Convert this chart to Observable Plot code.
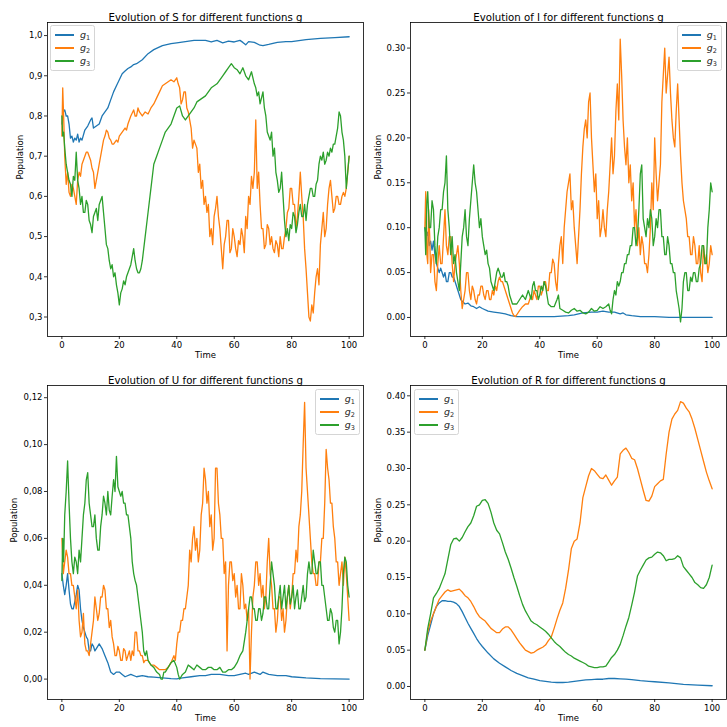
<!DOCTYPE html>
<html><head><meta charset="utf-8">
<script src="https://cdn.jsdelivr.net/npm/d3@7"></script>
<script src="https://cdn.jsdelivr.net/npm/@observablehq/plot@0.6"></script>
<style>
body{margin:0;background:#fff;font-family:"DejaVu Sans",sans-serif;}
#root{position:relative;width:727px;height:727px;overflow:hidden;background:#fff;}
.panel{position:absolute;}
.legend{position:absolute;border:1px solid #d5d5d5;border-radius:2.5px;background:rgba(255,255,255,0.8);padding:2.5px 4px 2.5px 4px;font-size:9.5px;color:#222;}
.legend .row{display:flex;align-items:center;height:13px;white-space:nowrap;}
.legend .sw{display:inline-block;width:19px;height:1.3px;margin-right:6px;}
.legend .lab{display:inline-block;line-height:10px;}
.legend i{font-family:"DejaVu Sans";font-style:oblique;}
.legend sub{font-size:6.5px;vertical-align:-1.5px;line-height:0;}
</style>
</head><body><div id="root"></div>
<script>
// ---------- categories / labels ----------
const groups = ["g1", "g2", "g3"];
const groupSub = ["1", "2", "3"];
const colors = ["#1f77b4", "#ff7f0e", "#2ca02c"];
const xTicks = [0, 20, 40, 60, 80, 100];
const S_ticks = [0.3, 0.4, 0.5, 0.6, 0.7, 0.8, 0.9, 1.0];
const I_ticks = [0, 0.05, 0.10, 0.15, 0.20, 0.25, 0.30];
const U_ticks = [0, 0.02, 0.04, 0.06, 0.08, 0.10, 0.12];
const R_ticks = [0, 0.05, 0.10, 0.15, 0.20, 0.25, 0.30, 0.35, 0.40];
const titles = ["Evolution of S for different functions g", "Evolution of I for different functions g",
  "Evolution of U for different functions g", "Evolution of R for different functions g"];

// ---------- S ----------
const S_g1 = [[0,.78],[0.5,.81],[1,.815],[1.5,.80],[2,.80],[2.5,.78],[3,.745],[3.5,.75],[4,.735],[4.5,.745],[5,.74],[5.5,.755],[6,.735],[6.5,.745],[7,.74],[8,.765],[9,.775],[10,.79],[10.5,.795],[11,.77],[12,.775],[13,.78],[14,.80],[15,.81],[16,.82],[17,.84],[18,.86],[19,.875],[20,.89],[21,.905],[22,.912],[23,.918],[24,.922],[25,.928],[26,.93],[28,.94],[30,.955],[32,.965],[35,.975],[38,.98],[40,.982],[43,.985],[46,.988],[48,.988],[50,.988],[52,.984],[54,.988],[56,.982],[58,.986],[60,.984],[62,.988],[63,.983],[64,.977],[65,.985],[67,.983],[69,.976],[70,.975],[72,.978],[75,.983],[78,.985],[80,.985],[85,.99],[90,.993],[95,.995],[100,.997]];
const S_g2 = [[0,.75],[0.3,.87],[0.7,.78],[1,.70],[1.5,.63],[2,.66],[2.5,.61],[3,.60],[3.5,.63],[4,.62],[4.5,.60],[5,.58],[5.5,.64],[6,.66],[6.5,.65],[7,.68],[7.5,.69],[8,.70],[8.5,.71],[9,.71],[9.5,.70],[10,.69],[10.5,.67],[11,.66],[11.5,.62],[12,.64],[12.5,.66],[13,.68],[13.5,.70],[14,.72],[14.5,.74],[15,.75],[15.5,.765],[16,.76],[16.5,.745],[17,.74],[17.5,.73],[18,.73],[19,.74],[19.5,.735],[20,.75],[21,.76],[22,.77],[22.5,.765],[23,.78],[24,.80],[25,.815],[25.5,.80],[26,.80],[26.5,.82],[27,.81],[28,.80],[29,.81],[30,.805],[31,.82],[32,.83],[33,.845],[34,.86],[35,.875],[36,.88],[37,.885],[38,.89],[39,.885],[40,.895],[40.5,.88],[41,.87],[41.5,.83],[42,.84],[42.5,.86],[43,.86],[43.5,.82],[44,.81],[45,.77],[45.5,.72],[46,.74],[47,.72],[47.5,.66],[48,.68],[48.5,.62],[49,.64],[49.5,.58],[50,.60],[50.5,.56],[51,.58],[51.5,.50],[52,.52],[52.5,.48],[53,.55],[53.5,.57],[54,.60],[54.5,.55],[55,.52],[55.5,.47],[56,.42],[56.5,.48],[57,.50],[57.5,.54],[58,.54],[58.5,.46],[59,.47],[59.5,.52],[60,.50],[60.5,.47],[61,.45],[61.5,.49],[62,.48],[62.5,.52],[63,.50],[63.5,.46],[64,.55],[64.5,.52],[65,.60],[65.5,.58],[66,.65],[66.5,.62],[67,.66],[67.5,.79],[68,.62],[68.5,.66],[69,.58],[69.5,.52],[70,.52],[70.5,.47],[71,.48],[71.5,.53],[72,.52],[72.5,.48],[73,.50],[73.5,.47],[74,.46],[74.5,.49],[75,.48],[75.5,.45],[76,.50],[76.5,.47],[77,.47],[77.5,.50],[78,.52],[78.5,.56],[79,.57],[79.5,.62],[80,.62],[80.5,.58],[81,.58],[81.5,.52],[82,.55],[82.5,.60],[83,.66],[83.5,.60],[84,.55],[84.5,.47],[85,.42],[85.5,.36],[86,.30],[86.5,.29],[87,.33],[87.5,.31],[88,.36],[88.5,.40],[89,.42],[89.5,.38],[90,.48],[90.5,.52],[91,.56],[91.5,.50],[92,.52],[92.5,.58],[93,.62],[93.5,.64],[94,.60],[94.5,.56],[95,.57],[95.5,.60],[96,.60],[96.5,.58],[97,.58],[97.5,.60],[98,.61],[98.5,.60],[99,.62],[99.5,.66],[100,.70]];
const S_g3 = [[0,.80],[0.3,.75],[0.6,.76],[1,.72],[1.5,.68],[2,.66],[2.5,.64],[3,.63],[3.5,.60],[4,.65],[4.5,.64],[5,.71],[5.5,.64],[6,.62],[6.5,.58],[7,.60],[7.5,.56],[8,.56],[8.5,.59],[9,.58],[9.5,.54],[10,.53],[10.5,.51],[11,.55],[11.5,.56],[12,.57],[12.5,.54],[13,.58],[13.5,.59],[14,.60],[14.5,.56],[15,.52],[15.5,.48],[16,.47],[16.5,.44],[17,.42],[17.5,.43],[18,.40],[18.5,.41],[19,.38],[19.5,.36],[20,.33],[20.5,.36],[21,.37],[21.5,.39],[22,.38],[22.5,.40],[23,.41],[23.5,.42],[24,.43],[24.5,.45],[25,.47],[25.5,.44],[26,.42],[26.5,.41],[27,.41],[27.5,.42],[28,.44],[29,.50],[30,.56],[31,.62],[32,.68],[33,.70],[34,.72],[35,.74],[36,.76],[37,.77],[38,.78],[39,.80],[40,.82],[41,.825],[42,.80],[43,.79],[44,.80],[45,.81],[46,.82],[47,.835],[48,.84],[49,.845],[50,.85],[51,.86],[52,.87],[53,.875],[54,.88],[55,.89],[56,.90],[57,.91],[58,.92],[59,.93],[60,.92],[61,.915],[62,.905],[63,.92],[64,.90],[65,.89],[66,.91],[67,.88],[67.5,.87],[68,.85],[68.5,.86],[69,.83],[70,.86],[70.5,.82],[71,.80],[71.5,.76],[72,.75],[72.5,.74],[73,.76],[73.5,.70],[74,.72],[74.5,.66],[75,.64],[75.5,.61],[76,.62],[76.5,.66],[77,.60],[77.5,.54],[78,.50],[78.5,.52],[79,.49],[79.5,.53],[80,.52],[80.5,.56],[81,.55],[81.5,.51],[82,.53],[82.5,.56],[83,.58],[83.5,.55],[84,.55],[84.5,.58],[85,.54],[85.5,.58],[86,.60],[86.5,.62],[87,.62],[87.5,.60],[88,.60],[88.5,.63],[89,.64],[89.5,.68],[90,.70],[90.5,.69],[91,.71],[91.5,.68],[92,.69],[92.5,.71],[93,.70],[93.5,.72],[94,.71],[94.5,.73],[95,.73],[95.5,.75],[96,.77],[96.5,.81],[97,.80],[97.5,.76],[98,.74],[98.5,.70],[99,.62],[99.5,.66],[100,.70]];

// ---------- I ----------
const I_g1 = [[0,.10],[0.5,.09],[1,.095],[1.5,.08],[2,.085],[2.5,.075],[3,.085],[3.5,.07],[4,.06],[4.5,.055],[5,.05],[5.5,.055],[6,.05],[6.5,.045],[7,.05],[7.5,.04],[8,.04],[8.5,.05],[9,.05],[9.5,.045],[10,.045],[10.5,.04],[11,.035],[11.5,.03],[12,.025],[12.5,.02],[13,.018],[14,.015],[15,.016],[16,.013],[17,.012],[18,.01],[19,.012],[20,.01],[22,.007],[24,.006],[26,.005],[28,.004],[30,.002],[32,.001],[35,.001],[40,.001],[45,.001],[50,.002],[52,.003],[55,.005],[58,.006],[60,.006],[62,.007],[64,.006],[66,.006],[68,.004],[69,.005],[70,.003],[72,.002],[75,.001],[80,.001],[85,0],[90,0],[100,0]];
const I_g2 = [[0,.10],[0.3,.14],[0.7,.07],[1,.06],[1.3,.12],[1.7,.09],[2,.05],[2.5,.07],[3,.07],[3.5,.04],[4,.03],[4.5,.06],[5,.08],[5.5,.06],[6,.06],[6.5,.09],[7,.12],[7.5,.08],[8,.07],[8.5,.09],[9,.09],[9.5,.06],[10,.04],[10.5,.06],[11,.07],[11.5,.08],[12,.06],[12.5,.03],[13,.01],[13.5,.02],[14,.03],[14.5,.05],[15,.05],[15.5,.03],[16,.02],[16.5,.035],[17,.03],[17.5,.02],[18,.015],[18.5,.025],[19,.025],[19.5,.035],[20,.035],[20.5,.025],[21,.02],[21.5,.03],[22,.03],[22.5,.02],[23,.02],[23.5,.03],[24,.025],[24.5,.035],[25,.03],[25.5,.04],[26,.045],[26.5,.04],[27,.04],[27.5,.035],[28,.03],[28.5,.025],[29,.02],[29.5,.015],[30,.01],[30.5,.005],[31,.002],[31.5,.001],[32,.003],[33,.008],[34,.012],[35,.015],[36,.015],[37,.025],[37.5,.02],[38,.03],[38.5,.025],[39,.02],[39.5,.035],[40,.035],[40.5,.025],[41,.03],[41.5,.04],[42,.04],[42.5,.03],[43,.03],[43.5,.05],[44,.05],[44.5,.065],[45,.06],[45.5,.04],[46,.03],[46.5,.06],[47,.08],[47.5,.09],[48,.06],[48.5,.10],[49,.12],[49.5,.14],[50,.15],[50.5,.16],[51,.12],[51.5,.13],[52,.10],[52.5,.08],[53,.06],[53.5,.09],[54,.12],[54.5,.16],[55,.19],[55.5,.21],[56,.22],[56.5,.20],[57,.24],[57.5,.25],[58,.20],[58.5,.17],[59,.14],[59.5,.16],[60,.11],[60.5,.13],[61,.09],[61.5,.10],[62,.12],[62.5,.10],[63,.09],[63.5,.12],[64,.14],[64.5,.17],[65,.20],[65.5,.16],[66,.18],[66.5,.23],[67,.26],[67.5,.22],[68,.31],[68.5,.27],[69,.22],[69.5,.19],[70,.17],[70.5,.20],[71,.15],[71.5,.17],[72,.13],[72.5,.15],[73,.10],[73.5,.12],[74,.08],[74.5,.10],[75,.07],[75.5,.09],[76,.08],[76.5,.06],[77,.06],[77.5,.05],[78,.07],[78.5,.10],[79,.15],[79.5,.12],[80,.20],[80.5,.16],[81,.13],[81.5,.15],[82,.17],[82.5,.24],[83,.27],[83.5,.30],[84,.25],[84.5,.27],[85,.29],[85.5,.25],[86,.22],[86.5,.20],[87,.19],[87.5,.23],[88,.26],[88.5,.22],[89,.18],[89.5,.15],[90,.13],[90.5,.12],[91,.11],[91.5,.09],[92,.09],[92.5,.07],[93,.07],[93.5,.09],[94,.08],[94.5,.06],[95,.06],[95.5,.08],[96,.05],[96.5,.04],[97,.08],[97.5,.06],[98,.07],[98.5,.05],[99,.06],[99.5,.08],[100,.07]];
const I_g3 = [[0,.10],[0.3,.07],[0.7,.13],[1,.14],[1.5,.10],[2,.10],[2.5,.13],[3,.12],[3.5,.08],[4,.06],[4.5,.09],[5,.10],[5.5,.12],[6,.12],[6.5,.14],[7,.15],[7.5,.18],[8,.12],[8.5,.10],[9,.07],[9.5,.09],[10,.06],[10.5,.07],[11,.05],[11.5,.04],[12,.03],[12.5,.06],[13,.09],[13.5,.10],[14,.12],[14.5,.09],[15,.08],[15.5,.11],[16,.13],[16.5,.15],[17,.17],[17.5,.15],[18,.14],[18.5,.12],[19,.10],[19.5,.11],[20,.09],[20.5,.08],[21,.07],[21.5,.075],[22,.06],[22.5,.055],[23,.04],[23.5,.035],[24,.03],[24.5,.04],[25,.05],[25.5,.055],[26,.05],[26.5,.045],[27,.045],[27.5,.05],[28,.04],[28.5,.04],[29,.035],[29.5,.025],[30,.02],[30.5,.015],[31,.015],[32,.015],[33,.02],[34,.025],[35,.02],[36,.03],[37,.02],[37.5,.035],[38,.04],[38.5,.03],[39,.03],[39.5,.02],[40,.025],[40.5,.035],[41,.03],[41.5,.04],[42,.035],[42.5,.025],[43,.015],[44,.012],[45,.012],[46,.02],[46.5,.025],[47,.01],[48,.008],[49,.006],[50,.005],[51,.008],[52,.01],[53,.007],[54,.008],[55,.005],[56,.004],[57,.006],[58,.01],[59,.007],[60,.008],[61,.012],[62,.01],[63,.012],[64,.015],[64.5,.008],[65,.004],[65.5,.02],[66,.03],[66.5,.025],[67,.04],[67.5,.035],[68,.04],[68.5,.05],[69,.05],[69.5,.06],[70,.06],[70.5,.07],[71,.07],[71.5,.08],[72,.08],[72.5,.10],[73,.10],[73.5,.08],[74,.09],[74.5,.12],[75,.16],[75.5,.17],[76,.11],[76.5,.10],[77,.09],[77.5,.11],[78,.10],[78.5,.12],[79,.11],[79.5,.08],[80,.09],[80.5,.11],[81,.10],[81.5,.12],[82,.12],[82.5,.09],[83,.09],[83.5,.07],[84,.07],[84.5,.09],[85,.08],[85.5,.06],[86,.06],[86.5,.05],[87,.05],[87.5,.03],[88,.02],[88.5,.01],[89,-.005],[89.5,.01],[90,.04],[90.5,.05],[91,.05],[91.5,.03],[92,.03],[92.5,.045],[93,.04],[93.5,.05],[94,.05],[94.5,.04],[95,.04],[95.5,.055],[96,.06],[96.5,.08],[97,.08],[97.5,.06],[98,.06],[98.5,.10],[99,.12],[99.5,.15],[100,.14]];

// ---------- U ----------
const U_g1 = [[0,.045],[0.5,.04],[1,.036],[1.5,.04],[2,.045],[2.5,.038],[3,.032],[3.5,.03],[4,.03],[4.5,.033],[5,.036],[5.5,.04],[6,.038],[6.5,.03],[7,.025],[7.5,.022],[8,.02],[8.5,.018],[9,.017],[9.5,.012],[10,.012],[10.5,.015],[11,.014],[11.5,.012],[12,.013],[13,.015],[14,.013],[15,.01],[16,.007],[17,.003],[18,.002],[19,.003],[20,.003],[21,.002],[22,.001],[24,.002],[26,.001],[28,.0015],[30,.001],[32,.0008],[35,.0005],[38,.0002],[40,.0001],[42,.0005],[45,.001],[48,.0015],[50,.0015],[52,.002],[55,.002],[58,.0015],[60,.0015],[62,.002],[64,.0025],[65,.002],[67,.003],[69,.002],[70,.003],[72,.002],[75,.0015],[78,.0015],[80,.001],[85,.0005],[90,.0002],[100,0]];
const U_g2 = [[0,.06],[0.5,.045],[1,.05],[1.5,.055],[2,.052],[2.5,.045],[3,.045],[3.5,.04],[4,.04],[4.5,.035],[5,.03],[5.5,.038],[6,.025],[6.5,.018],[7,.02],[7.5,.028],[8,.015],[8.5,.012],[9,.012],[9.5,.01],[10,.015],[10.5,.02],[11,.025],[11.5,.035],[12,.03],[12.5,.025],[13,.028],[13.5,.035],[14,.035],[14.5,.04],[15,.038],[15.5,.03],[16,.03],[16.5,.022],[17,.025],[17.5,.018],[18,.015],[18.5,.01],[19,.01],[19.5,.014],[20,.012],[20.5,.008],[21,.008],[21.5,.013],[22,.012],[22.5,.008],[23,.01],[23.5,.012],[24,.008],[24.5,.012],[25,.01],[25.5,.02],[26,.02],[26.5,.012],[27,.012],[27.5,.01],[28,.01],[28.5,.007],[29,.008],[30,.008],[31,.006],[32,.006],[33,.005],[34,.004],[35,.004],[36,.004],[37,.005],[38,.007],[39,.01],[39.5,.008],[40,.015],[40.5,.02],[41,.02],[41.5,.025],[42,.025],[42.5,.03],[43,.03],[43.5,.035],[44,.04],[44.5,.055],[45,.05],[45.5,.06],[46,.065],[46.5,.055],[47,.06],[47.5,.05],[48,.055],[48.5,.07],[49,.075],[49.5,.09],[50,.085],[50.5,.075],[51,.08],[51.5,.065],[52,.07],[52.5,.055],[53,.06],[53.5,.09],[54,.09],[54.5,.075],[55,.07],[55.5,.06],[56,.06],[56.5,.045],[57,.05],[57.5,.012],[58,.04],[58.5,.05],[59,.05],[59.5,.042],[60,.045],[60.5,.035],[61,.04],[61.5,.03],[62,.03],[62.5,.045],[63,.04],[63.5,.03],[64,.032],[64.5,.025],[65,.03],[65.5,0],[66,.02],[66.5,.035],[67,.04],[67.5,.05],[68,.05],[68.5,.04],[69,.045],[69.5,.035],[70,.04],[70.5,.03],[71,.035],[71.5,.05],[72,.06],[72.5,.045],[73,.04],[73.5,.03],[74,.03],[74.5,.02],[75,.025],[75.5,.035],[76,.035],[76.5,.025],[77,.03],[77.5,.02],[78,.025],[78.5,.035],[79,.04],[79.5,.03],[80,.035],[80.5,.045],[81,.045],[81.5,.055],[82,.05],[82.5,.065],[83,.07],[83.5,.08],[84,.10],[84.5,.118],[85,.09],[85.5,.08],[86,.07],[86.5,.06],[87,.05],[87.5,.045],[88,.045],[88.5,.04],[89,.04],[89.5,.05],[90,.05],[90.5,.06],[91,.06],[91.5,.075],[92,.098],[92.5,.09],[93,.085],[93.5,.075],[94,.075],[94.5,.065],[95,.06],[95.5,.05],[96,.05],[96.5,.04],[97,.045],[97.5,.05],[98,.04],[98.5,.052],[99,.045],[99.5,.035],[100,.025]];
const U_g3 = [[0,.042],[0.3,.06],[0.6,.05],[1,.07],[1.5,.08],[2,.093],[2.5,.075],[3,.06],[3.5,.05],[4,.045],[4.5,.052],[5,.05],[5.5,.045],[6,.055],[6.5,.05],[7,.06],[7.5,.07],[8,.075],[8.5,.085],[9,.088],[9.5,.075],[10,.07],[10.5,.065],[11,.065],[11.5,.07],[12,.06],[12.5,.055],[13,.055],[13.5,.065],[14,.07],[14.5,.078],[15,.075],[15.5,.07],[16,.08],[16.5,.072],[17,.07],[17.5,.078],[18,.085],[18.5,.08],[19,.095],[19.5,.082],[20,.08],[20.5,.078],[21,.08],[21.5,.075],[22,.075],[22.5,.07],[23,.07],[23.5,.065],[24,.06],[24.5,.05],[25,.045],[25.5,.042],[26,.04],[26.5,.035],[27,.03],[27.5,.025],[28,.02],[28.5,.012],[29,.01],[29.5,.012],[30,.008],[31,.006],[32,.005],[33,.003],[34,.002],[34.5,0],[35,0],[35.5,.003],[36,.003],[37,.005],[38,.007],[39,.008],[40,.005],[40.5,.002],[41,0],[41.5,.001],[42,.002],[43,.003],[44,.006],[45,.005],[46,.004],[47,.006],[48,.005],[49,.004],[50,.004],[51,.005],[52,.005],[53,.004],[54,.004],[55,.005],[56,.003],[57,.003],[58,.004],[59,.004],[60,.005],[61,.007],[62,.01],[63,.012],[64,.02],[64.5,.025],[65,.03],[65.5,.035],[66,.035],[66.5,.03],[67,.03],[67.5,.025],[68,.025],[68.5,.03],[69,.03],[69.5,.025],[70,.028],[70.5,.035],[71,.035],[71.5,.03],[72,.03],[72.5,.04],[73,.05],[73.5,.045],[74,.04],[74.5,.03],[75,.03],[75.5,.035],[76,.04],[76.5,.03],[77,.035],[77.5,.04],[78,.03],[78.5,.035],[79,.04],[79.5,.032],[80,.035],[80.5,.04],[81,.03],[81.5,.035],[82,.038],[82.5,.03],[83,.03],[83.5,.035],[84,.04],[84.5,.033],[85,.035],[85.5,.045],[86,.05],[86.5,.045],[87,.045],[87.5,.055],[88,.05],[88.5,.045],[89,.045],[89.5,.05],[90,.05],[90.5,.04],[91,.04],[91.5,.035],[92,.03],[92.5,.025],[93,.025],[93.5,.03],[94,.028],[94.5,.022],[95,.02],[95.5,.025],[96,.025],[96.5,.015],[97,.02],[97.5,.03],[98,.045],[98.5,.052],[99,.05],[99.5,.04],[100,.035]];

// ---------- R ----------
const R_g1 = [[0,.05],[1,.07],[2,.085],[3,.10],[4,.11],[5,.115],[6,.118],[7,.118],[8,.117],[9,.117],[10,.116],[11,.114],[12,.11],[13,.103],[14,.095],[15,.087],[16,.08],[17,.073],[18,.066],[19,.06],[20,.055],[22,.046],[24,.038],[26,.032],[28,.027],[30,.022],[32,.018],[34,.015],[36,.012],[38,.01],[40,.008],[42,.007],[44,.006],[46,.0055],[48,.0055],[50,.006],[52,.007],[54,.008],[56,.009],[58,.0095],[60,.01],[62,.01],[64,.011],[66,.011],[68,.0105],[70,.01],[72,.0095],[75,.008],[78,.007],[80,.0065],[85,.005],[90,.003],[95,.002],[100,.001]];
const R_g2 = [[0,.05],[1,.075],[2,.09],[3,.10],[4,.11],[5,.12],[6,.125],[7,.13],[8,.133],[9,.131],[10,.132],[11,.133],[12,.134],[13,.13],[14,.125],[15,.122],[16,.117],[17,.11],[18,.102],[19,.096],[20,.093],[21,.09],[22,.085],[23,.08],[24,.077],[25,.074],[26,.074],[27,.079],[28,.082],[29,.082],[30,.078],[31,.072],[32,.066],[33,.06],[34,.055],[35,.05],[36,.048],[37,.046],[38,.047],[39,.05],[40,.052],[41,.054],[42,.057],[43,.063],[44,.068],[45,.08],[46,.093],[47,.105],[48,.115],[49,.135],[50,.16],[51,.19],[52,.2],[53,.203],[54,.225],[55,.26],[56,.275],[57,.29],[58,.3],[59,.297],[60,.292],[61,.287],[62,.286],[63,.291],[64,.284],[65,.277],[66,.283],[67,.288],[68,.32],[69,.325],[70,.328],[71,.322],[72,.314],[73,.312],[74,.3],[75,.285],[76,.27],[77,.256],[78,.255],[79,.262],[80,.275],[81,.279],[82,.283],[83,.285],[84,.32],[85,.35],[86,.368],[87,.375],[88,.38],[89,.392],[90,.39],[91,.383],[92,.378],[93,.368],[94,.355],[95,.34],[96,.325],[97,.31],[98,.295],[99,.283],[100,.272]];
const R_g3 = [[0,.05],[1,.08],[2,.10],[3,.122],[4,.128],[5,.135],[6,.145],[7,.155],[8,.175],[9,.195],[10,.203],[11,.204],[12,.2],[13,.205],[14,.213],[15,.22],[16,.225],[17,.235],[18,.248],[19,.25],[20,.256],[21,.257],[22,.252],[23,.24],[24,.225],[25,.215],[26,.21],[27,.198],[28,.185],[29,.175],[30,.163],[31,.15],[32,.138],[33,.125],[34,.113],[35,.104],[36,.097],[37,.09],[38,.087],[39,.085],[40,.082],[41,.079],[42,.076],[43,.072],[44,.067],[45,.062],[46,.058],[47,.055],[48,.051],[49,.047],[50,.044],[51,.042],[52,.039],[53,.037],[54,.035],[55,.033],[56,.031],[57,.028],[58,.027],[59,.026],[60,.026],[61,.027],[62,.027],[63,.028],[64,.034],[65,.04],[66,.044],[67,.05],[68,.058],[69,.07],[70,.083],[71,.095],[72,.112],[73,.13],[74,.152],[75,.16],[76,.167],[77,.174],[78,.177],[79,.178],[80,.182],[81,.185],[82,.184],[83,.18],[84,.173],[85,.175],[86,.175],[87,.176],[88,.18],[89,.177],[90,.165],[91,.16],[92,.155],[93,.15],[94,.143],[95,.14],[96,.136],[97,.135],[98,.14],[99,.15],[100,.167]];

// ---------- drawing ----------
const comma = (n) => (x) => x.toFixed(n).replace(".", ",");
const dot = (n) => (x) => x.toFixed(n);

const panels = [
  {left: 0, top: 0, w: 366, h: 363, mr: 3, mb: 27, title: titles[0], domain: [0.2515, 1.0325], ticks: S_ticks, fmt: comma(1), series: [S_g1, S_g2, S_g3], ylab: -27, legend: {left: 50, top: 25}},
  {left: 363, top: 0, w: 364, h: 363, mr: 1, mb: 27, title: titles[1], domain: [-0.0212, 0.3285], ticks: I_ticks, fmt: dot(2), series: [I_g1, I_g2, I_g3], ylab: -32, legend: {right: 5, top: 25}},
  {left: 0, top: 363, w: 366, h: 364, mr: 3, mb: 28, title: titles[2], domain: [-0.0087, 0.1252], ticks: U_ticks, fmt: comma(2), series: [U_g1, U_g2, U_g3], ylab: -33, legend: {right: 367, top: 389}},
  {left: 363, top: 363, w: 364, h: 364, mr: 1, mb: 28, title: titles[3], domain: [-0.0179, 0.4142], ticks: R_ticks, fmt: dot(2), series: [R_g1, R_g2, R_g3], ylab: -32, legend: {left: 414, top: 389}}
];

const root = document.getElementById("root");
for (const p of panels) {
  const chart = Plot.plot({
    width: p.w, height: p.h,
    marginLeft: 47, marginRight: p.mr, marginTop: 22, marginBottom: p.mb,
    style: {fontFamily: "DejaVu Sans", fontSize: "8.5px", background: "transparent", color: "#000", overflow: "visible"},
    x: {domain: [-5, 105]},
    y: {domain: p.domain},
    marks: [
      Plot.axisX({ticks: xTicks, tickSize: 3, tickPadding: 2, label: null, strokeWidth: 0.8}),
      Plot.axisY({ticks: p.ticks, tickSize: 3, tickPadding: 2, tickFormat: p.fmt, label: null, strokeWidth: 0.8}),
      ...p.series.map((s, i) => Plot.line(s, {x: d => d[0], y: d => d[1], stroke: colors[i], strokeWidth: 1.3, strokeLinejoin: "round"})),
      Plot.frame({stroke: "#000", strokeWidth: 0.8}),
      Plot.text([p.title], {text: d => d, frameAnchor: "top", dy: -9, fontSize: 10.2}),
      Plot.text(["Time"], {text: d => d, frameAnchor: "bottom", dy: 21, fontSize: 8.5}),
      Plot.text(["Population"], {text: d => d, frameAnchor: "left", dx: p.ylab, rotate: -90, fontSize: 8.5})
    ]
  });
  const div = document.createElement("div");
  div.className = "panel";
  div.style.left = p.left + "px";
  div.style.top = p.top + "px";
  div.appendChild(chart);
  root.appendChild(div);

  const lg = document.createElement("div");
  lg.className = "legend";
  lg.style.top = p.legend.top + "px";
  if (p.legend.left != null) lg.style.left = p.legend.left + "px";
  else lg.style.right = p.legend.right + "px";
  groups.forEach((g, i) => {
    const row = document.createElement("div");
    row.className = "row";
    row.innerHTML = `<span class="sw" style="background:${colors[i]}"></span><span class="lab"><i>g</i><sub>${groupSub[i]}</sub></span>`;
    lg.appendChild(row);
  });
  root.appendChild(lg);
}
</script>
</body></html>
